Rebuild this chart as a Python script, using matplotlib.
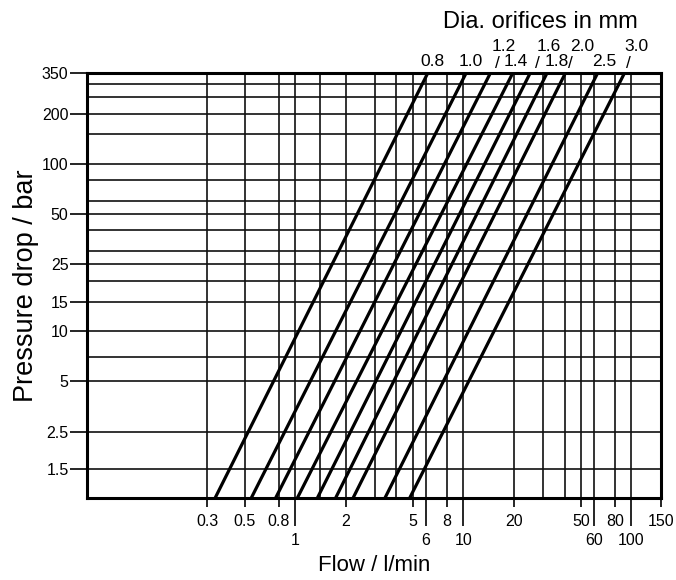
import matplotlib
matplotlib.use("Agg")
import matplotlib.pyplot as plt

plt.rcParams['font.family'] = ['Liberation Sans', 'DejaVu Sans']

# ---- data ----
diameters = ["0.8", "1.0", "1.2", "1.4", "1.6", "1.8", "2.0", "2.5", "3.0"]
flow_at_1bar = [0.334, 0.548, 0.765, 1.03, 1.355, 1.74, 2.21, 3.42, 4.8]
flow_at_350bar = [6.15, 10.4, 14.5, 19.7, 25.0, 31.5, 40.5, 63.0, 91.0]
pressure_ends = [1, 350]

x_grid = [0.3, 0.5, 0.8, 1, 1.4, 2, 3, 4, 5, 6, 8, 10, 20, 30, 40, 50, 60, 80, 100]
x_ticks_upper = [0.3, 0.5, 0.8, 2, 5, 8, 20, 50, 80, 150]
x_labels_upper = ["0.3", "0.5", "0.8", "2", "5", "8", "20", "50", "80", "150"]
x_ticks_lower = [1, 6, 10, 60, 100]
x_labels_lower = ["1", "6", "10", "60", "100"]

y_grid = [1.5, 2.5, 5, 7, 10, 15, 20, 25, 30, 40, 50, 60, 80, 100, 150, 200, 250, 300]
y_ticks = [1.5, 2.5, 5, 10, 15, 25, 50, 100, 200, 350]
y_labels = ["1.5", "2.5", "5", "10", "15", "25", "50", "100", "200", "350"]

# label layout (pixel offsets from the line's top end)
label_upper_row = [False, False, True, False, True, False, True, False, True]
label_dx = [5, 5, 13, 3, 19, 10, 17, 7, 12]
slash_dx = [None, None, 7, None, 7, None, 5.5, None, 4]

W, H = 676, 580
fig = plt.figure(figsize=(W / 100, H / 100), dpi=100)
L, R, T, B = 87.3, 661, 73, 498
ax = fig.add_axes([L / W, 1 - B / H, (R - L) / W, (B - T) / H])
ax.set_xscale('log')
ax.set_yscale('log')
ax.set_xlim(0.058, 150)
ax.set_ylim(1, 350)

for v in x_grid:
    ax.axvline(v, color='#111111', lw=1.2, zorder=1)
for v in y_grid:
    ax.axhline(v, color='#111111', lw=1.2, zorder=1)

for f1, f2 in zip(flow_at_1bar, flow_at_350bar):
    ax.plot([f1, f2], pressure_ends, color='black', lw=2.3, zorder=3,
            solid_capstyle='butt')

for s in ax.spines.values():
    s.set_linewidth(2.2)

ax.set_xticks(x_ticks_upper, x_labels_upper)
ax.set_xticks(x_ticks_lower, x_labels_lower, minor=True)
ax.set_yticks(y_ticks, y_labels)
ax.set_yticks([], minor=True)
ax.tick_params(axis='x', which='major', length=6.5, width=1.2, pad=5,
               labelsize=11.5, direction='out')
ax.tick_params(axis='x', which='minor', length=20, width=1.2, pad=5.5,
               labelsize=11.5, direction='out')
ax.tick_params(axis='y', which='major', length=12, width=1.2, pad=1.5,
               labelsize=11.5, direction='out')

ax.set_xlabel("Flow / l/min", fontsize=16, labelpad=5)
ax.set_ylabel("Pressure drop / bar", fontsize=19.5, labelpad=2)

for name, ftop, upper, dx, sdx in zip(diameters, flow_at_350bar,
                                      label_upper_row, label_dx, slash_dx):
    dy = 26.5 if upper else 11.5
    ax.annotate(name, xy=(ftop, 1), xycoords=('data', 'axes fraction'),
                xytext=(dx, dy), textcoords='offset pixels',
                ha='center', va='center', fontsize=12.5)
    if sdx is not None:
        ax.annotate("/", xy=(ftop, 1), xycoords=('data', 'axes fraction'),
                    xytext=(sdx, 9), textcoords='offset pixels',
                    ha='center', va='center', fontsize=12.5)

fig.text(540 / W, 1 - 22 / H, "Dia. orifices in mm", ha='center',
         va='center', fontsize=17)

fig.savefig("out.png", dpi=100)
